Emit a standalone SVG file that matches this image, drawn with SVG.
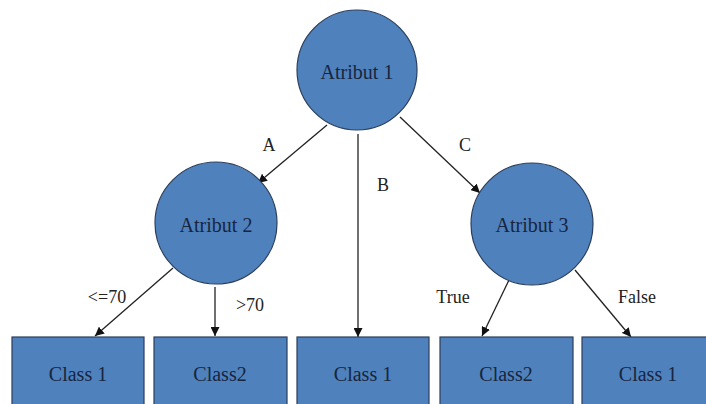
<svg xmlns="http://www.w3.org/2000/svg" width="706" height="404" viewBox="0 0 706 404">
<defs>
<style>
.node{fill:#4F81BD;stroke:#2b3f5c;stroke-width:1.2}
.t{font-family:"Liberation Serif","Times New Roman",serif;font-size:20px;fill:#17253d;text-anchor:middle;dominant-baseline:central}
.lbl{font-family:"Liberation Serif","Times New Roman",serif;font-size:18px;fill:#222;text-anchor:middle;dominant-baseline:central}
.e{stroke:#222;stroke-width:1.3;fill:none;marker-end:url(#ah)}
</style>
<marker id="ah" viewBox="0 0 10 10" refX="10" refY="5" markerWidth="9" markerHeight="9" markerUnits="userSpaceOnUse" orient="auto">
<path d="M0,0 L10,5 L0,10 z" fill="#111"/>
</marker>
</defs>
<rect width="706" height="404" fill="#ffffff"/>
<g id="connectors">
<line class="e" x1="327" y1="125" x2="258" y2="183"/>
<line class="e" x1="358" y1="134" x2="358" y2="337"/>
<line class="e" x1="400" y1="117" x2="480" y2="193"/>
<line class="e" x1="173" y1="268" x2="95" y2="336"/>
<line class="e" x1="215" y1="287" x2="215" y2="336"/>
<line class="e" x1="509" y1="280" x2="482" y2="336"/>
<line class="e" x1="575" y1="270" x2="631" y2="337"/>
<text class="lbl" x="269" y="145">A</text>
<text class="lbl" x="383" y="185">B</text>
<text class="lbl" x="465" y="145">C</text>
<text class="lbl" x="107" y="297">&lt;=70</text>
<text class="lbl" x="250" y="305">&gt;70</text>
<text class="lbl" x="453" y="297">True</text>
<text class="lbl" x="637" y="297">False</text>
</g>
<g id="atribut1"><circle class="node" cx="357" cy="70" r="60"/><text class="t" x="357" y="72">Atribut 1</text></g>
<g id="atribut2"><circle class="node" cx="216" cy="223" r="61"/><text class="t" x="216" y="225">Atribut 2</text></g>
<g id="atribut3"><circle class="node" cx="532" cy="224" r="61"/><text class="t" x="532" y="225">Atribut 3</text></g>
<g id="class1a"><rect class="node" x="12" y="337" width="132" height="80"/><text class="t" x="78" y="374">Class 1</text></g>
<g id="class2a"><rect class="node" x="154" y="337" width="133" height="80"/><text class="t" x="220" y="374">Class2</text></g>
<g id="class1b"><rect class="node" x="297" y="337" width="132" height="80"/><text class="t" x="363" y="374">Class 1</text></g>
<g id="class2b"><rect class="node" x="440" y="337" width="133" height="80"/><text class="t" x="506" y="374">Class2</text></g>
<g id="class1c"><rect class="node" x="582" y="337" width="132" height="80"/><text class="t" x="648" y="374">Class 1</text></g>
</svg>
